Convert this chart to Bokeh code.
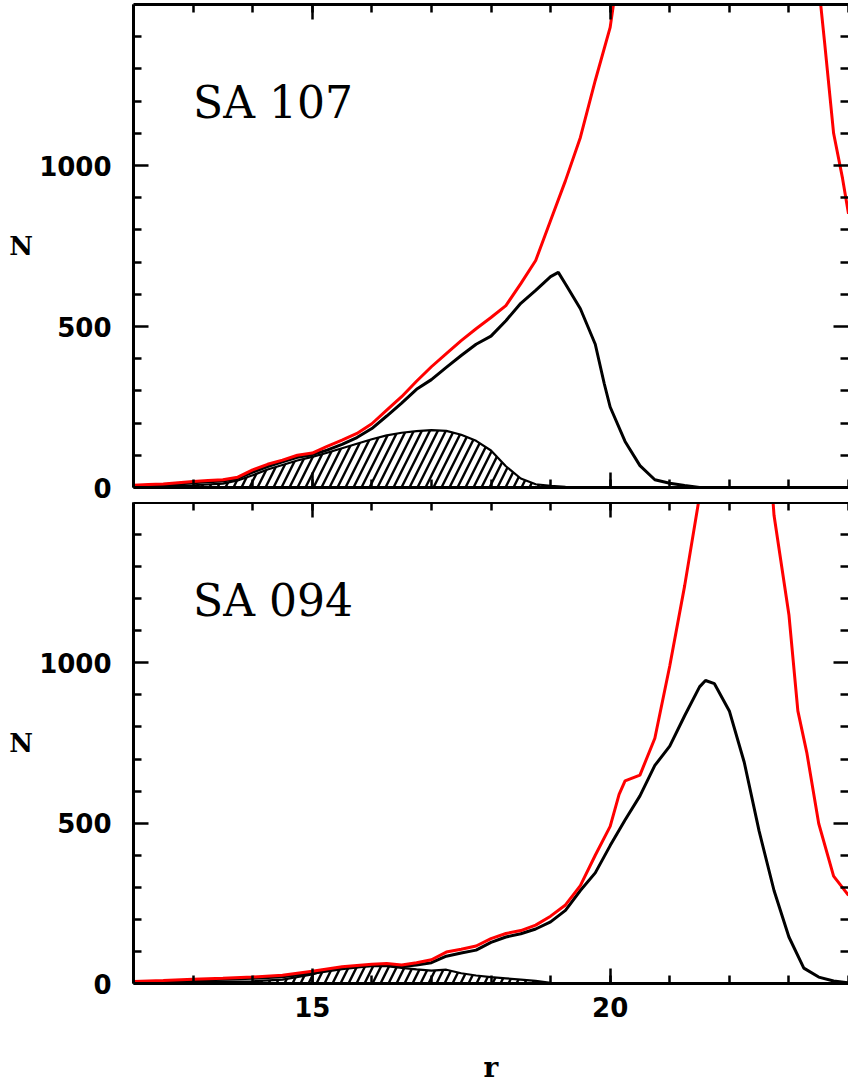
from bokeh.plotting import figure
from bokeh.models import LinearAxis, SingleIntervalTicker, FixedTicker, Range1d, Label
from bokeh.layouts import column
from bokeh.embed import file_html
from bokeh.resources import INLINE

# ---------------- data: SA 107 (top panel) ----------------
r107_red = [12.0, 12.25, 12.5, 12.75, 13.0, 13.25, 13.5, 13.75, 14.0, 14.25, 14.5, 14.75,
            15.0, 15.25, 15.5, 15.75, 16.0, 16.25, 16.5, 16.75, 17.0, 17.25, 17.5, 17.75,
            18.0, 18.25, 18.5, 18.75, 19.0, 19.25, 19.5, 19.75, 20.0, 20.25, 20.5, 21.0,
            21.5, 22.0, 22.5, 23.0, 23.25, 23.5, 23.6, 23.75, 23.9, 24.0]
n107_red = [7, 9, 11, 15, 19, 22, 24, 32, 55, 72, 85, 100,
            107, 128, 147, 168, 198, 240, 282, 330, 375, 416, 456, 493,
            528, 565, 633, 705, 829, 953, 1087, 1264, 1429, 1750, 2100, 2800,
            3400, 3600, 3300, 2400, 1950, 1560, 1380, 1100, 960, 850]

r107_blk = [12.0, 12.25, 12.5, 12.75, 13.0, 13.25, 13.5, 13.75, 14.0, 14.25, 14.5, 14.75,
            15.0, 15.25, 15.5, 15.75, 16.0, 16.25, 16.5, 16.75, 17.0, 17.25, 17.5, 17.75,
            18.0, 18.25, 18.5, 18.75, 19.0, 19.13, 19.25, 19.5, 19.75, 19.9, 20.0, 20.25,
            20.5, 20.75, 21.0, 21.25, 21.5, 22.0, 23.0, 24.0]
n107_blk = [5, 6, 8, 11, 15, 18, 20, 28, 48, 65, 80, 94,
            102, 116, 134, 155, 183, 222, 262, 305, 335, 373, 410, 445,
            470, 518, 572, 612, 655, 668, 632, 555, 445, 323, 250, 143,
            68, 24, 13, 6, 0, 0, 0, 0]

r107_hat = [12.0, 12.5, 13.0, 13.5, 13.75, 14.0, 14.25, 14.5, 14.75, 15.0, 15.25, 15.5,
            15.75, 16.0, 16.25, 16.5, 16.75, 17.0, 17.25, 17.5, 17.75, 18.0, 18.25, 18.5,
            18.75, 19.0, 19.25, 19.5]
n107_hat = [2, 4, 7, 12, 22, 38, 56, 70, 84, 95, 108, 122,
            136, 150, 162, 170, 175, 178, 176, 164, 145, 115, 66, 28,
            10, 5, 2, 0]

# ---------------- data: SA 094 (bottom panel) ----------------
r094_red = [12.0, 12.5, 13.0, 13.5, 14.0, 14.5, 15.0, 15.5, 16.0, 16.25, 16.5, 16.75,
            17.0, 17.25, 17.5, 17.75, 18.0, 18.25, 18.5, 18.75, 19.0, 19.25, 19.5, 19.75,
            20.0, 20.15, 20.25, 20.5, 20.75, 21.0, 21.25, 21.5, 21.75, 22.0, 22.25, 22.5,
            22.75, 23.0, 23.15, 23.3, 23.5, 23.75, 24.0]
n094_red = [6, 9, 13, 16, 20, 26, 38, 52, 60, 62, 58, 65,
            74, 98, 107, 117, 140, 156, 165, 182, 210, 245, 305, 400,
            490, 590, 632, 650, 765, 990, 1240, 1520, 1900, 2200, 2350, 2100,
            1460, 1150, 850, 720, 499, 335, 275]

r094_blk = [12.0, 12.5, 13.0, 13.5, 14.0, 14.5, 15.0, 15.5, 16.0, 16.25, 16.5, 16.75,
            17.0, 17.25, 17.5, 17.75, 18.0, 18.25, 18.5, 18.75, 19.0, 19.25, 19.5, 19.75,
            20.0, 20.25, 20.5, 20.75, 21.0, 21.25, 21.5, 21.6, 21.75, 22.0, 22.25, 22.5,
            22.75, 23.0, 23.25, 23.5, 23.75, 24.0]
n094_blk = [4, 6, 10, 13, 16, 21, 32, 46, 56, 57, 53, 58,
            65, 85, 95, 104, 128, 145, 155, 170, 192, 228, 290, 345,
            430, 510, 585, 680, 740, 835, 925, 945, 935, 850, 690, 475,
            290, 145, 48, 20, 8, 2]

r094_hat = [12.0, 12.5, 13.0, 13.5, 14.0, 14.5, 15.0, 15.25, 15.5, 15.75, 16.0, 16.25,
            16.5, 16.75, 17.0, 17.25, 17.5, 17.75, 18.0, 18.25, 18.5, 18.75, 19.0, 19.25]
n094_hat = [2, 3, 5, 6, 7, 12, 28, 42, 50, 54, 55, 54,
            49, 44, 40, 43, 32, 25, 20, 16, 12, 8, 2, 0]

x_major_interval = 5
y_major_ticks = [0, 500, 1000]
y_minor_ticks = [100, 200, 300, 400, 600, 700, 800, 900, 1100, 1200, 1300, 1400]

TICK_FONT = "DejaVu Sans"
LABEL_FONT = "DejaVu Serif"


def x_ticker():
    return SingleIntervalTicker(interval=x_major_interval, num_minor_ticks=5)


def y_ticker():
    return FixedTicker(ticks=y_major_ticks, minor_ticks=y_minor_ticks)


def style_axis(ax, ticker, show_labels, show_line=True):
    ax.ticker = ticker
    ax.major_tick_in = 15
    ax.major_tick_out = 0
    ax.minor_tick_in = 8
    ax.minor_tick_out = 0
    ax.major_tick_line_width = 2.5
    ax.minor_tick_line_width = 2.5
    ax.major_tick_line_color = "black"
    ax.minor_tick_line_color = "black"
    ax.axis_line_width = 3
    ax.axis_line_color = "black" if show_line else None
    if show_labels:
        ax.major_label_text_font = TICK_FONT
        ax.major_label_text_font_style = "bold"
        ax.major_label_text_font_size = "26px"
        ax.major_label_text_color = "black"
    else:
        ax.major_label_text_color = None
        ax.major_label_standoff = 0


def panel(name, rr, nr, rb, nb, rh, nh, bottom):
    if bottom:
        h, bt, bb = 584, 0, 102
    else:
        h, bt, bb = 502, 4, 15
    p = figure(width=848, height=h, x_range=Range1d(12, 24), y_range=Range1d(0, 1500),
               output_backend="svg", toolbar_location=None,
               min_border_left=133, min_border_right=0, min_border_top=bt,
               min_border_bottom=bb)
    p.background_fill_color = "white"
    p.border_fill_color = "white"
    p.grid.visible = False
    p.outline_line_color = None

    # bottom axis
    style_axis(p.xaxis[0], x_ticker(), bottom)
    if bottom:
        p.xaxis[0].major_label_standoff = 13
        p.xaxis[0].axis_label = "r"
        p.xaxis[0].axis_label_text_font = LABEL_FONT
        p.xaxis[0].axis_label_text_font_style = "bold"
        p.xaxis[0].axis_label_text_font_size = "28px"
        p.xaxis[0].axis_label_text_color = "black"
        p.xaxis[0].axis_label_standoff = 31
    # left axis
    style_axis(p.yaxis[0], y_ticker(), True)
    p.yaxis[0].major_label_standoff = 22
    p.yaxis[0].axis_label = "N"
    p.yaxis[0].axis_label_orientation = "horizontal"
    p.yaxis[0].axis_label_text_font = LABEL_FONT
    p.yaxis[0].axis_label_text_font_style = "bold"
    p.yaxis[0].axis_label_text_font_size = "26px"
    p.yaxis[0].axis_label_text_color = "black"
    p.yaxis[0].axis_label_standoff = 3

    top_ax = LinearAxis()
    style_axis(top_ax, x_ticker(), False)
    p.add_layout(top_ax, "above")
    right_ax = LinearAxis()
    style_axis(right_ax, y_ticker(), False, show_line=False)
    p.add_layout(right_ax, "right")

    p.varea(x=rh, y1=0, y2=nh, fill_color=None, hatch_pattern="/",
            hatch_color="black", hatch_weight=2.4, hatch_scale=16)
    p.line(rh, nh, line_color="black", line_width=2.2)
    p.line(rb, nb, line_color="black", line_width=3)
    p.line(rr, nr, line_color="#ff0000", line_width=3)

    p.add_layout(Label(x=13.0, y=1195, text=name, text_font=LABEL_FONT,
                       text_font_size="44px", text_color="black",
                       text_baseline="alphabetic"))
    return p


p1 = panel("SA 107", r107_red, n107_red, r107_blk, n107_blk, r107_hat, n107_hat, False)
p2 = panel("SA 094", r094_red, n094_red, r094_blk, n094_blk, r094_hat, n094_hat, True)

layout = column(p1, p2)
open("out.html", "w").write(file_html(layout, INLINE))
